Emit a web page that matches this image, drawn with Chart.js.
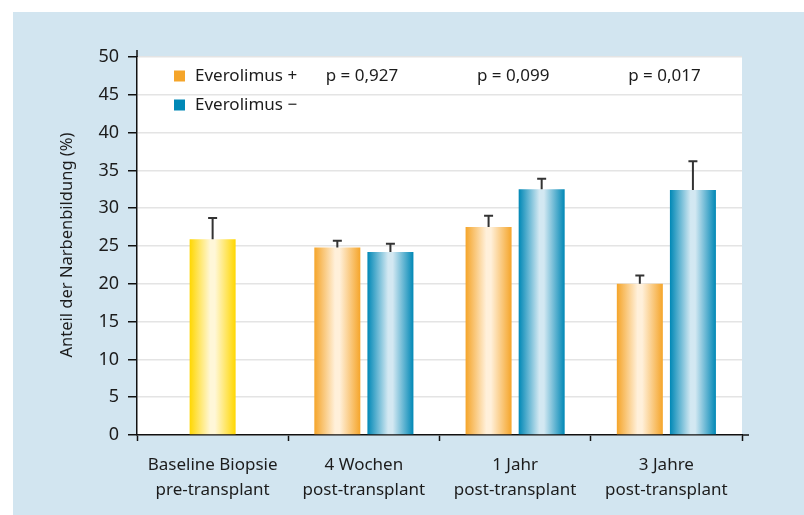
<!DOCTYPE html>
<html>
<head>
<meta charset="utf-8">
<script src="https://cdn.jsdelivr.net/npm/chart.js@4.4.1/dist/chart.umd.min.js"></script>
<style>
  html, body { margin: 0; padding: 0; background: #fff; }
  canvas { display: block; }
</style>
</head>
<body>
<canvas id="chart" width="804" height="515"></canvas>
<script>
const categories = [
  ["Baseline Biopsie", "pre-transplant"],
  ["4 Wochen", "post-transplant"],
  ["1 Jahr", "post-transplant"],
  ["3 Jahre", "post-transplant"],
];
const baseline = [25.9, null, null, null];
const baselineUpper = [28.7, null, null, null];
const everoPlus = [null, 24.8, 27.5, 20.0];
const everoPlusUpper = [null, 25.7, 29.0, 21.1];
const everoMinus = [null, 24.2, 32.5, 32.4];
const everoMinusUpper = [null, 25.3, 33.9, 36.2];
const pValues = [null, "p = 0,927", "p = 0,099", "p = 0,017"];
const legendLabels = ["Everolimus +", "Everolimus \u2212"];
const yTitle = "Anteil der Narbenbildung (%)";

const FONT = "'Noto Sans', sans-serif";
const TEXT = "#1c1c1c";

// edge colour, light centre colour
const shades = [
  ["#ffd700", "#fff7d8"],
  ["#f5a52a", "#fff0da"],
  ["#0088b6", "#d3e8f2"],
];

const uppers = [baselineUpper, everoPlusUpper, everoMinusUpper];

const background = {
  id: "background",
  beforeDraw(chart) {
    const { ctx, chartArea: a } = chart;
    ctx.save();
    ctx.fillStyle = "#fff";
    ctx.fillRect(0, 0, chart.width, chart.height);
    ctx.fillStyle = "#d2e5f0";
    ctx.fillRect(13, 12, chart.width - 13, chart.height - 12);
    ctx.fillStyle = "#fff";
    ctx.fillRect(a.left, a.top, a.right - a.left, a.bottom - a.top);
    ctx.restore();
  },
};

const cylinder = {
  id: "cylinder",
  beforeDatasetsDraw(chart) {
    const ctx = chart.ctx;
    chart.data.datasets.forEach((ds, di) => {
      const [edge, light] = shades[di];
      chart.getDatasetMeta(di).data.forEach((bar) => {
        if (bar.skip || !isFinite(bar.x)) return;
        const x0 = bar.x - bar.width / 2;
        const g = ctx.createLinearGradient(x0, 0, x0 + bar.width, 0);
        g.addColorStop(0, edge);
        g.addColorStop(0.45, light);
        g.addColorStop(0.55, light);
        g.addColorStop(1, edge);
        bar.options.backgroundColor = g;
      });
    });
  },
};

const extras = {
  id: "extras",
  afterDatasetsDraw(chart) {
    const { ctx, scales, chartArea: a } = chart;
    const y = scales.y, x = scales.x;
    ctx.save();
    // error bars (upper only)
    ctx.strokeStyle = "#333";
    ctx.lineWidth = 2;
    chart.data.datasets.forEach((ds, di) => {
      chart.getDatasetMeta(di).data.forEach((bar, i) => {
        const up = uppers[di][i];
        if (up == null) return;
        const yt = y.getPixelForValue(up);
        ctx.beginPath();
        ctx.moveTo(bar.x, bar.y);
        ctx.lineTo(bar.x, yt);
        ctx.moveTo(bar.x - 4.5, yt);
        ctx.lineTo(bar.x + 4.5, yt);
        ctx.stroke();
      });
    });
    // p-values
    ctx.fillStyle = TEXT;
    ctx.font = "17px " + FONT;
    ctx.textAlign = "center";
    ctx.textBaseline = "middle";
    pValues.forEach((p, i) => {
      if (p) ctx.fillText(p, x.getPixelForValue(i) - 2, 76);
    });
    // legend
    ctx.textAlign = "left";
    legendLabels.forEach((t, i) => {
      const ly = 76 + i * 29;
      ctx.fillStyle = shades[i + 1][0];
      ctx.fillRect(174, ly - 5.5, 11, 11);
      ctx.fillStyle = TEXT;
      ctx.fillText(t, 195, ly);
    });
    // axis line extends above the plot
    ctx.strokeStyle = "#111";
    ctx.lineWidth = 1.5;
    ctx.beginPath();
    ctx.moveTo(a.left, a.top - 7);
    ctx.lineTo(a.left, a.top);
    ctx.moveTo(a.right, a.bottom);
    ctx.lineTo(a.right + 7, a.bottom);
    ctx.stroke();
    // y title
    ctx.translate(67, 245);
    ctx.rotate(-Math.PI / 2);
    ctx.textAlign = "center";
    ctx.fillStyle = TEXT;
    ctx.font = "16.5px " + FONT;
    ctx.fillText(yTitle, 0, 0);
    ctx.restore();
  },
};

const barOpts = {
  categoryPercentage: 0.702,
  barPercentage: 0.868,
  maxBarThickness: 46,
  skipNull: true,
  borderWidth: 0,
  backgroundColor: () => "#ccc",
};

new Chart(document.getElementById("chart"), {
  type: "bar",
  data: {
    labels: categories,
    datasets: [
      { label: "Baseline", data: baseline, ...barOpts },
      { label: legendLabels[0], data: everoPlus, ...barOpts },
      { label: legendLabels[1], data: everoMinus, ...barOpts },
    ],
  },
  options: {
    responsive: false,
    animation: false,
    layout: { padding: { left: 0, top: 57, right: 62, bottom: 0 } },
    plugins: {
      legend: { display: false },
      tooltip: { enabled: false },
    },
    scales: {
      x: {
        afterFit: (s) => { s.height = 80; },
        border: { color: "#111", width: 1.5 },
        grid: {
          offset: true,
          drawOnChartArea: false,
          tickLength: 6,
          tickColor: "#111",
          tickWidth: 1.5,
        },
        ticks: {
          color: TEXT,
          font: { family: FONT, size: 17, lineHeight: 1.45 },
          padding: 12,
          maxRotation: 0,
        },
      },
      y: {
        min: 0,
        max: 50,
        afterFit: (s) => { s.width = 137; },
        border: { color: "#111", width: 1.5 },
        grid: {
          color: "#e4e4e4",
          lineWidth: 1.5,
          tickColor: "#111",
          tickLength: 9,
          tickWidth: 1.5,
        },
        ticks: {
          stepSize: 5,
          color: TEXT,
          font: { family: FONT, size: 18 },
          padding: 9,
        },
      },
    },
  },
  plugins: [background, cylinder, extras],
});
</script>
</body>
</html>
